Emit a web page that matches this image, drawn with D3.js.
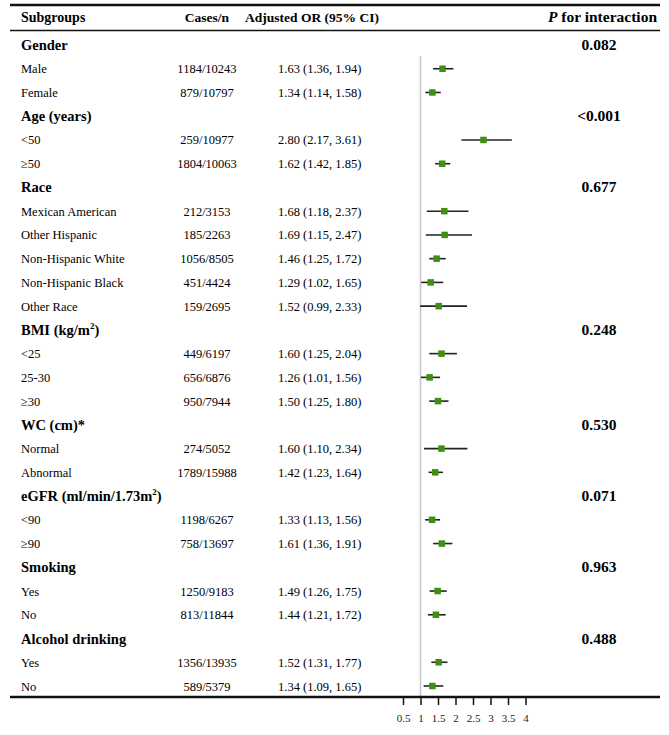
<!DOCTYPE html>
<html><head><meta charset="utf-8">
<script src="https://cdn.jsdelivr.net/npm/d3@7"></script>
<style>
html,body{margin:0;padding:0;background:#fff;}
svg{display:block;font-family:"Liberation Serif","Times New Roman",serif;}
</style></head>
<body>
<svg id="chart" width="669" height="735"></svg>
<script>
// ---- data ----
const headers = ["Subgroups", "Cases/n", "Adjusted OR (95% CI)", "for interaction"];
const groupNames = ["Gender", "Age (years)", "Race", "BMI (kg/m", "WC (cm)*", "eGFR (ml/min/1.73m", "Smoking", "Alcohol drinking"];
const groupSup = ["", "", "", "2", "", "2", "", ""];
const groupSupTail = ["", "", "", ")", "", ")", "", ""];
const pInteraction = ["0.082", "<0.001", "0.677", "0.248", "0.530", "0.071", "0.963", "0.488"];
const subLabels = ["Male", "Female", "<50", "≥50", "Mexican American", "Other Hispanic", "Non-Hispanic White", "Non-Hispanic Black", "Other Race", "<25", "25-30", "≥30", "Normal", "Abnormal", "<90", "≥90", "Yes", "No", "Yes", "No"];
const subGroupIdx = [0, 0, 1, 1, 2, 2, 2, 2, 2, 3, 3, 3, 4, 4, 5, 5, 6, 6, 7, 7];
const casesN = ["1184/10243", "879/10797", "259/10977", "1804/10063", "212/3153", "185/2263", "1056/8505", "451/4424", "159/2695", "449/6197", "656/6876", "950/7944", "274/5052", "1789/15988", "1198/6267", "758/13697", "1250/9183", "813/11844", "1356/13935", "589/5379"];
const orVals = [1.63, 1.34, 2.80, 1.62, 1.68, 1.69, 1.46, 1.29, 1.52, 1.60, 1.26, 1.50, 1.60, 1.42, 1.33, 1.61, 1.49, 1.44, 1.52, 1.34];
const ciLow = [1.36, 1.14, 2.17, 1.42, 1.18, 1.15, 1.25, 1.02, 0.99, 1.25, 1.01, 1.25, 1.10, 1.23, 1.13, 1.36, 1.26, 1.21, 1.31, 1.09];
const ciHigh = [1.94, 1.58, 3.61, 1.85, 2.37, 2.47, 1.72, 1.65, 2.33, 2.04, 1.56, 1.80, 2.34, 1.64, 1.56, 1.91, 1.75, 1.72, 1.77, 1.65];
const xTicks = [0.5, 1, 1.5, 2, 2.5, 3, 3.5, 4];
const refValue = 1;

// ---- build rows ----
const rows = [];
groupNames.forEach((g, gi) => {
  rows.push({type: "group", gi});
  subGroupIdx.forEach((s, si) => { if (s === gi) rows.push({type: "sub", si}); });
});

const svg = d3.select("#chart");
const y = d3.scalePoint().domain(d3.range(rows.length)).range([45, 686]);
const x = d3.scaleLinear().domain([0.5, 4]).range([403, 525.5]);

const fmt = v => v.toFixed(2);

// table lines
svg.append("line").attr("x1", 10).attr("x2", 660).attr("y1", 5).attr("y2", 5).attr("stroke", "#111").attr("stroke-width", 2.5);
svg.append("line").attr("x1", 10).attr("x2", 660).attr("y1", 30.5).attr("y2", 30.5).attr("stroke", "#111").attr("stroke-width", 1.5);

// header
const hy = 22;
svg.append("text").attr("x", 21).attr("y", hy).attr("font-weight", "bold").attr("font-size", 14).text(headers[0]);
svg.append("text").attr("x", 207).attr("y", hy).attr("text-anchor", "middle").attr("font-weight", "bold").attr("font-size", 13.5).text(headers[1]);
svg.append("text").attr("x", 312).attr("y", hy).attr("text-anchor", "middle").attr("font-weight", "bold").attr("font-size", 13.5).text(headers[2]);
const ph = svg.append("text").attr("x", 657).attr("y", hy).attr("text-anchor", "end").attr("font-weight", "bold").attr("font-size", 15.5);
ph.append("tspan").attr("font-style", "italic").text("P");
ph.append("tspan").text(" " + headers[3]);

// reference line
svg.append("line").attr("x1", x(refValue)).attr("x2", x(refValue)).attr("y1", 56).attr("y2", 697)
  .attr("stroke", "#c4c4c4").attr("stroke-width", 1.5);

// rows
rows.forEach((r, i) => {
  const cy = y(i);
  if (r.type === "group") {
    const t = svg.append("text").attr("x", 21).attr("y", cy + 5).attr("font-weight", "bold").attr("font-size", 14.5);
    t.append("tspan").text(groupNames[r.gi]);
    if (groupSup[r.gi]) {
      t.append("tspan").attr("font-size", 9).attr("dy", -6).text(groupSup[r.gi]);
      t.append("tspan").attr("dy", 6).text(groupSupTail[r.gi]);
    }
    svg.append("text").attr("x", 599).attr("y", cy + 5).attr("text-anchor", "middle").attr("font-weight", "bold").attr("font-size", 15.5).text(pInteraction[r.gi]);
  } else {
    const s = r.si;
    svg.append("text").attr("x", 21).attr("y", cy + 4.5).attr("font-size", 12.5).text(subLabels[s]);
    svg.append("text").attr("x", 207).attr("y", cy + 4.5).attr("text-anchor", "middle").attr("font-size", 12.5).text(casesN[s]);
    svg.append("text").attr("x", 278).attr("y", cy + 4.5).attr("font-size", 12.5).text(`${fmt(orVals[s])} (${fmt(ciLow[s])}, ${fmt(ciHigh[s])})`);
    svg.append("line").attr("x1", x(ciLow[s])).attr("x2", x(ciHigh[s])).attr("y1", cy).attr("y2", cy)
      .attr("stroke", "#222").attr("stroke-width", 1.6);
    const sz = 6.5;
    svg.append("rect").attr("x", x(orVals[s]) - sz / 2).attr("y", cy - sz / 2).attr("width", sz).attr("height", sz)
      .attr("fill", "#3f8f12");
  }
});

// bottom line + axis
const axisY = 697;
svg.append("line").attr("x1", 10).attr("x2", 660).attr("y1", axisY).attr("y2", axisY).attr("stroke", "#111").attr("stroke-width", 2.5);
const axis = d3.axisBottom(x).tickValues(xTicks).tickSize(8).tickPadding(9).tickFormat(d => String(d));
const ga = svg.append("g").attr("transform", `translate(0,${axisY})`).call(axis);
ga.select(".domain").remove();
ga.selectAll(".tick line").attr("stroke", "#111").attr("stroke-width", 1.5);
ga.selectAll(".tick text").attr("font-family", "Liberation Serif, serif").attr("font-size", 11).attr("fill", "#222");
</script>
</body></html>
